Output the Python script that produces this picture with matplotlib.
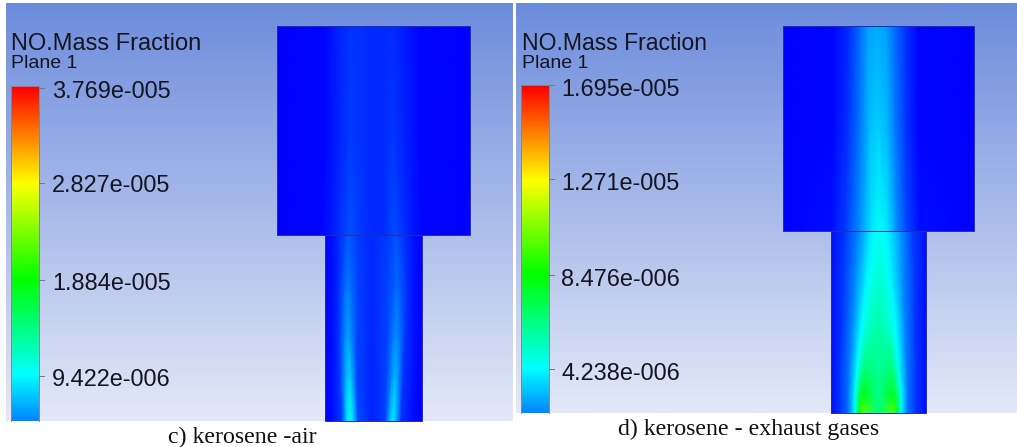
import matplotlib
matplotlib.use("Agg")
import matplotlib.pyplot as plt
import numpy as np
from matplotlib.colors import LinearSegmentedColormap
from matplotlib.patches import Rectangle

# Titles and captions
title = "NO.Mass Fraction"
subtitle = "Plane 1"
caption_c = "c) kerosene -air"
caption_d = "d) kerosene - exhaust gases"

# Colour bar labels (top to bottom), values in 1e-6
ticks_c = ["3.769e-005", "2.827e-005", "1.884e-005", "9.422e-006"]
ticks_d = ["1.695e-005", "1.271e-005", "8.476e-006", "4.238e-006"]
vmax_c = 37.69
vmax_d = 16.95

# NO mass fraction (1e-6), one row per station
# panel c, upper chamber
c_up_y = [26, 130, 235]
c_up_x = [[277, 325, 338, 350, 362, 372, 382, 392, 404, 420, 470],
          [277, 325, 338, 350, 362, 372, 382, 393, 405, 420, 470],
          [277, 322, 335, 350, 362, 372, 382, 395, 408, 422, 470]]
c_up_v = [[0, 0.2, 1.2, 2.0, 1.8, 1.6, 1.6, 1.7, 1.1, 0.2, 0],
          [0, 0.2, 1.2, 2.1, 1.9, 1.6, 1.6, 2.0, 1.2, 0.2, 0],
          [0, 0.2, 1.2, 3.0, 2.0, 1.5, 1.6, 2.8, 1.2, 0.2, 0]]

# panel c, lower duct
c_lo_y = [235, 290, 340, 380, 421]
c_lo_x = [[325, 333, 339, 346, 349, 352, 359, 372, 386, 393, 396, 399, 406, 414, 422],
          [325, 333, 339, 345, 348, 351, 358, 372, 387, 394, 397, 400, 407, 414, 422],
          [325, 333, 339, 345, 348, 351, 357, 372, 387, 393, 396, 399, 405, 414, 422],
          [325, 333, 340, 346, 349, 352, 357, 372, 386, 392, 395, 398, 403, 413, 422],
          [325, 333, 342, 347, 350, 353, 358, 372, 385, 390, 393, 396, 401, 412, 422]]
c_lo_v = [[0, 0.6, 1.6, 2.9, 3.2, 2.9, 2.2, 1.5, 2.2, 2.7, 3.0, 2.7, 1.6, 0.6, 0],
          [0, 0.6, 1.8, 4.0, 4.6, 4.0, 2.4, 1.4, 2.4, 3.5, 4.0, 3.5, 1.8, 0.6, 0],
          [0, 0.6, 2.0, 5.2, 6.2, 5.2, 2.6, 1.4, 2.4, 4.6, 5.4, 4.6, 2.0, 0.6, 0],
          [0, 0.6, 2.2, 6.6, 8.0, 6.6, 2.6, 1.3, 2.4, 5.6, 6.8, 5.6, 2.0, 0.6, 0],
          [0, 0.5, 2.4, 8.4, 10.4, 8.4, 2.8, 1.2, 2.4, 7.0, 8.8, 7.0, 2.0, 0.5, 0]]

# panel d, upper chamber
d_up_y = [26, 130, 231]
d_up_x = [[783, 833, 848, 860, 868, 877, 886, 894, 906, 918, 974],
          [783, 833, 848, 860, 870, 878, 887, 895, 906, 918, 974],
          [783, 831, 846, 860, 872, 880, 888, 896, 906, 920, 974]]
d_up_v = [[0, 0.1, 0.7, 1.8, 2.7, 2.9, 2.7, 1.9, 0.8, 0.1, 0],
          [0, 0.1, 0.8, 2.0, 3.2, 3.5, 3.1, 2.1, 0.9, 0.1, 0],
          [0, 0.2, 1.0, 2.4, 3.9, 4.4, 3.8, 2.5, 1.2, 0.2, 0]]

# panel d, lower duct
d_lo_y = [231, 280, 330, 370, 395, 413]
d_lo_x = [[831, 846, 860, 870, 873, 875, 880, 885, 887, 890, 900, 912, 926],
          [831, 844, 856, 866, 869, 872, 879, 886, 889, 892, 902, 914, 926],
          [831, 842, 852, 861, 865, 868, 878, 888, 891, 896, 905, 915, 926],
          [831, 840, 849, 857, 861, 865, 878, 891, 895, 899, 907, 916, 926],
          [831, 840, 848, 855, 859, 863, 878, 893, 897, 901, 908, 916, 926],
          [831, 840, 848, 855, 859, 863, 878, 893, 897, 901, 908, 916, 926]]
d_lo_v = [[0.2, 1.0, 2.4, 3.9, 4.1, 4.3, 4.4, 4.3, 4.1, 3.8, 2.6, 1.1, 0.2],
          [0.2, 1.0, 2.4, 4.0, 4.3, 4.6, 5.0, 4.6, 4.3, 4.0, 2.5, 1.0, 0.2],
          [0.2, 0.9, 2.3, 4.3, 4.8, 5.2, 5.8, 5.2, 4.8, 4.3, 2.3, 0.9, 0.2],
          [0.2, 0.9, 2.0, 4.4, 5.8, 6.6, 6.0, 6.6, 5.8, 4.4, 2.0, 0.9, 0.2],
          [0.2, 0.9, 1.9, 4.3, 7.0, 8.2, 6.2, 8.0, 6.9, 4.3, 1.9, 0.9, 0.2],
          [0.2, 0.9, 1.9, 4.4, 8.2, 10.0, 6.4, 9.8, 8.0, 4.4, 1.9, 0.9, 0.2]]

# Same rainbow as the CFD post-processor
rainbow = LinearSegmentedColormap.from_list(
    "cfd", ["#0000ff", "#00ffff", "#00ff00", "#ffff00", "#ff0000"])
back = LinearSegmentedColormap.from_list("back", ["#6c8cdc", "#e4e9f8"])

fig = plt.figure(figsize=(10.17, 4.47), dpi=100)
ax = fig.add_axes([0, 0, 1, 1])
ax.set_xlim(0, 1017)
ax.set_ylim(447, 0)
ax.axis("off")


def draw_block(row_y, row_x, row_v, vmax):
    xs = np.array(row_x, dtype=float)
    ys = np.repeat(np.array(row_y, dtype=float)[:, None], xs.shape[1], axis=1)
    mesh = ax.pcolormesh(xs, ys, np.array(row_v), cmap=rainbow, vmin=0, vmax=vmax,
                         shading="gouraud", zorder=2)
    # gouraud triangles leave small nicks at the row joins, clip them off
    mesh.set_clip_path(Rectangle((xs[0, 0], ys[0, 0]), xs[0, -1] - xs[0, 0],
                                 ys[-1, 0] - ys[0, 0], transform=ax.transData))
    ax.plot([xs[0, 0], xs[0, -1], xs[-1, -1], xs[-1, 0], xs[0, 0]],
            [ys[0, 0], ys[0, -1], ys[-1, -1], ys[-1, 0], ys[0, 0]],
            color="#2a2aa8", lw=0.7, zorder=3)


def draw_legend(x0, top, bottom, tick_y, labels, tick_x, title_x, title_y, title_size, label_dy):
    # colour bar is cut off by the panel, so it stops above zero
    tick_step = (tick_y[-1] - tick_y[0]) / 3
    low = 1 - 0.25 * (bottom - tick_y[0]) / tick_step
    grad = np.linspace(1, low, 256)[:, None]
    ax.imshow(grad, cmap=rainbow, vmin=0, vmax=1, aspect="auto",
              extent=[x0, x0 + 28, bottom, top], zorder=2)
    ax.plot([x0, x0, x0 + 28, x0 + 28], [bottom, top, top, bottom],
            color="#808890", lw=0.7, zorder=3)
    for y, lab in zip(tick_y, labels):
        ax.plot([x0 + 28, x0 + 33], [y, y], color="#707880", lw=0.7, zorder=3)
        ax.text(tick_x, y + label_dy, lab, fontsize=16.9, color="#15151f", va="center",
                ha="left", family="Liberation Sans", zorder=4)
    ax.text(title_x, title_y, title, fontsize=title_size, color="#15151f", va="center",
            family="Liberation Sans", zorder=4)
    ax.text(title_x, title_y + 20, subtitle, fontsize=14, color="#15151f",
            va="center", family="Liberation Sans", zorder=4)


# Panel backgrounds
ax.imshow(np.linspace(0, 1, 256)[:, None], cmap=back, aspect="auto",
          extent=[6, 513, 421, 3], zorder=1)
ax.imshow(np.linspace(0, 1, 256)[:, None], cmap=back, aspect="auto",
          extent=[516, 1017, 413, 3], zorder=1)
ax.set_xlim(0, 1017)
ax.set_ylim(447, 0)

draw_block(c_up_y, c_up_x, c_up_v, vmax_c)
draw_block(c_lo_y, c_lo_x, c_lo_v, vmax_c)
draw_block(d_up_y, d_up_x, d_up_v, vmax_d)
draw_block(d_lo_y, d_lo_x, d_lo_v, vmax_d)

draw_legend(11, 86, 421, [88, 183, 280, 376], ticks_c, 52, 11, 44, 17, 3)
draw_legend(521, 85, 413, [85, 179, 275, 369], ticks_d, 561, 522, 44, 16.6, 5)

ax.text(242, 437, caption_c, fontsize=17.2, color="#111111", ha="center",
        va="center", family="Liberation Serif")
ax.text(748.5, 429, caption_d, fontsize=17.2, color="#111111", ha="center",
        va="center", family="Liberation Serif")

fig.savefig("out.png", dpi=100)
